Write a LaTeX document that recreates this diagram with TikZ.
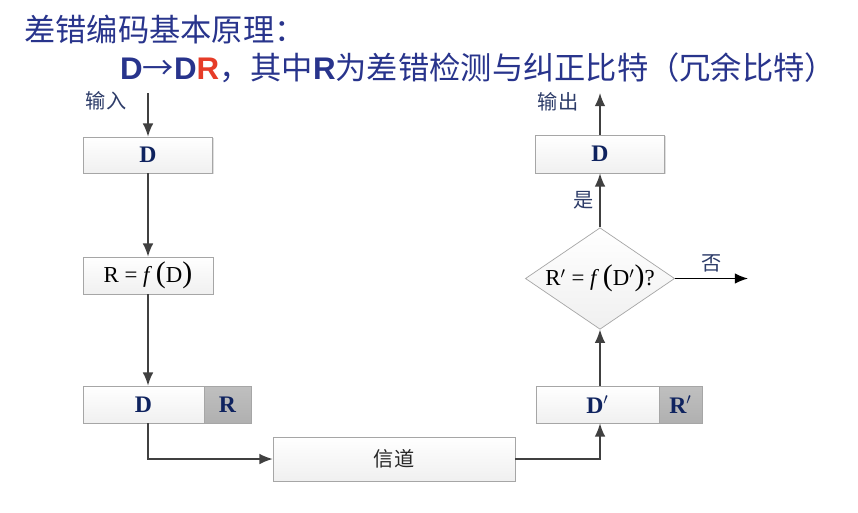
\documentclass[tikz,border=0pt]{standalone}
\usepackage{fontspec}
\setmainfont{Liberation Serif}
\newfontfamily\cjk{Noto Sans CJK SC}
\newfontfamily\arial{Liberation Sans}
\usetikzlibrary{shapes.geometric,shadows,arrows.meta}
\definecolor{titleblue}{RGB}{40,52,140}
\definecolor{errred}{RGB}{230,60,40}
\definecolor{navy}{RGB}{15,35,95}
\definecolor{lblblue}{RGB}{45,60,105}
\definecolor{linegray}{RGB}{64,64,64}
\newcommand{\lgpar}[1]{{\fontsize{17}{17}\selectfont(}#1{\fontsize{17}{17}\selectfont)}}

\begin{document}
\begin{tikzpicture}[x=0.02cm,y=-0.02cm,>={Latex[length=7.5pt,width=6pt]},
  blk/.style={rectangle,draw=gray!70,top color=white,bottom color=gray!12,minimum height=0.74cm,inner sep=0pt,drop shadow={shadow xshift=0.8pt,shadow yshift=-0.8pt,opacity=0.25}},
  rblk/.style={blk,top color=gray!50,bottom color=gray!62},
  dia/.style={diamond,draw=gray!70,top color=white,bottom color=gray!12,aspect=1.47,inner sep=0pt,minimum width=2.92cm,minimum height=1.98cm},
  lbl/.style={font=\cjk\fontsize{11.5}{13}\selectfont,text=lblblue},
  bits/.style={font=\bfseries\fontsize{13.5}{15}\selectfont,text=navy},
  flow/.style={->,draw=linegray,line width=0.8pt}]
    \useasboundingbox[fill=white] (0,0) rectangle (858,512);
    % title
    \node[anchor=west,font=\cjk\fontsize{17.8}{20}\selectfont,text=titleblue] (t1) at (18,30) {差错编码基本原理：};
    \node[anchor=west,font=\cjk\fontsize{17.8}{20}\selectfont,text=titleblue] (t2) at (114,68) {{\arial\bfseries D}→{\arial\bfseries D\textcolor{errred}{R}}，其中{\arial\bfseries R}为差错检测与纠正比特（冗余比特）};
    % sender side
    \node[blk,minimum width=2.58cm,minimum height=0.72cm,bits] (d1) at (148,155) {D};
    \node[blk,minimum width=2.6cm,font=\fontsize{13}{15}\selectfont] (rf) at (148,275.5) {R = \textit{f}\,\lgpar{D}};
    \node[blk,minimum width=2.42cm,bits] (dd) at (143.5,404.5) {D};
    \node[rblk,minimum width=0.94cm,bits] (rr) at (227.5,404.5) {R};
    % channel
    \node[blk,minimum width=4.84cm,minimum height=0.88cm,lbl,text=black!85] (ch) at (394,459) {信道};
    % receiver side
    \node[blk,minimum width=2.46cm,bits] (dp) at (597.5,404.5) {D$'$};
    \node[rblk,minimum width=0.86cm,bits] (rp) at (680.5,404.5) {R$'$};
    \node[dia,font=\fontsize{13}{15}\selectfont] (chk) at (600,278.5) {R$'$ = \textit{f}\,\lgpar{D$'$}?};
    \node[blk,minimum width=2.58cm,minimum height=0.76cm,bits] (d2) at (600,154) {D};
    \coordinate (in) at (148,93);
    \coordinate (out) at (600,93);
    \coordinate (no) at (748,278.5);
    \node[lbl] (inl) at (106,101) {输入};
    \node[lbl] (outl) at (558,102) {输出};
    % connectors
    \draw[flow] (in) -- (d1.north);
    \draw[flow] (d1.south) -- (rf.north);
    \draw[flow] (rf.south) -- (rf.south |- dd.north);
    \draw[flow] (rf.south |- dd.south) |- (ch.west);
    \draw[flow] (ch.east) -| (chk.south |- dp.south);
    \draw[flow] (chk.south |- dp.north) -- (chk.south);
    \draw[flow] (chk.north) -- (d2.south) node[midway,left,lbl] {是};
    \draw[flow] (d2.north) -- (out);
    \draw[flow,draw=black] (chk.east) -- (no) node[midway,above=0pt,lbl] {否};
\end{tikzpicture}
\end{document}
